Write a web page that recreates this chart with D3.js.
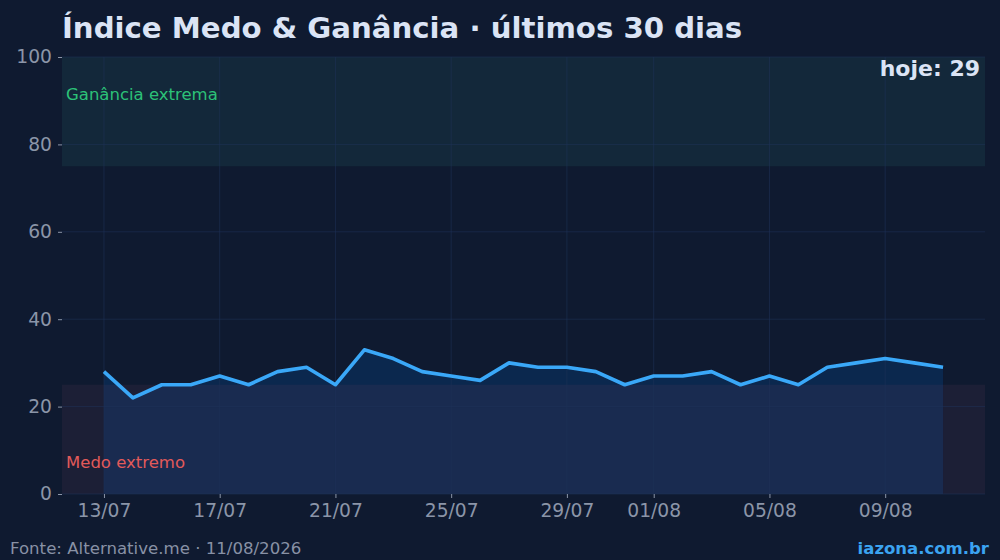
<!DOCTYPE html>
<html>
<head>
<meta charset="utf-8">
<script src="https://cdn.jsdelivr.net/npm/d3@7"></script>
<style>
  body { margin: 0; background: #0f1a30; }
  svg { display: block; font-family: "DejaVu Sans", sans-serif; }
</style>
</head>
<body>
<div id="chart"></div>
<script>
// data: fear & greed index, last 30 days
const dates = ["2026-07-13","2026-07-14","2026-07-15","2026-07-16","2026-07-17","2026-07-18",
  "2026-07-19","2026-07-20","2026-07-21","2026-07-22","2026-07-23","2026-07-24","2026-07-25",
  "2026-07-26","2026-07-27","2026-07-28","2026-07-29","2026-07-30","2026-07-31","2026-08-01",
  "2026-08-02","2026-08-03","2026-08-04","2026-08-05","2026-08-06","2026-08-07","2026-08-08",
  "2026-08-09","2026-08-10","2026-08-11"];
const values = [28,22,25,25,27,25,28,29,25,33,31,28,27,26,30,29,29,28,25,27,27,28,25,27,25,29,30,31,30,29];
const yTicks = [0,20,40,60,80,100];
const bands = [
  {from: 75, to: 100, label: "Ganância extrema", fill: "rgba(55,166,148,0.10)", color: "#2cc278"},
  {from: 0, to: 25, label: "Medo extremo", fill: "rgba(110,60,95,0.15)", color: "#e25a5a"}
];

const W = 1000, H = 560;
const m = {left: 62, right: 985, top: 57, bottom: 494};

const parse = d3.timeParse("%Y-%m-%d");
const data = dates.map((d, i) => ({date: parse(d), value: values[i]}));

const svg = d3.select("#chart").append("svg")
  .attr("width", W).attr("height", H);

svg.append("rect").attr("width", W).attr("height", H).attr("fill", "#0f1a30");

// x with 5% margins like the original
const ext = d3.extent(data, d => d.date);
const pad = (ext[1] - ext[0]) * 0.05;
const x = d3.scaleTime()
  .domain([new Date(+ext[0] - pad), new Date(+ext[1] + pad)])
  .range([m.left, m.right]);
const y = d3.scaleLinear().domain([0, 100]).range([m.bottom, m.top]);

const xTicks = d3.timeDay.range(ext[0], d3.timeDay.offset(ext[1], 1))
  .filter(d => [1,5,9,13,17,21,25,29].includes(d.getDate()));

// area under the line
svg.append("path")
  .datum(data)
  .attr("fill", "rgba(0,80,165,0.26)")
  .attr("d", d3.area().x(d => x(d.date)).y0(y(0)).y1(d => y(d.value)));

// zone bands
svg.selectAll(".band")
  .data(bands)
  .join("rect")
    .attr("x", m.left)
    .attr("width", m.right - m.left)
    .attr("y", d => y(d.to))
    .attr("height", d => y(d.from) - y(d.to))
    .attr("fill", d => d.fill);

// grid
svg.append("g")
  .selectAll("line")
  .data(yTicks)
  .join("line")
    .attr("x1", m.left).attr("x2", m.right)
    .attr("y1", d => y(d)).attr("y2", d => y(d))
    .attr("stroke", "#1f3358").attr("stroke-opacity", 0.7).attr("stroke-width", 0.8);
svg.append("g")
  .selectAll("line")
  .data(xTicks)
  .join("line")
    .attr("x1", d => x(d)).attr("x2", d => x(d))
    .attr("y1", m.top).attr("y2", m.bottom)
    .attr("stroke", "#1f3358").attr("stroke-opacity", 0.7).attr("stroke-width", 0.8);

// line
svg.append("path")
  .datum(data)
  .attr("fill", "none")
  .attr("stroke", "#3aa8f8")
  .attr("stroke-width", 3.6)
  .attr("stroke-linejoin", "round")
  .attr("d", d3.line().x(d => x(d.date)).y(d => y(d.value)));

// axes
const yAxis = svg.append("g")
  .attr("transform", `translate(${m.left},0)`)
  .call(d3.axisLeft(y).tickValues(yTicks).tickSize(4).tickPadding(6));
const xAxis = svg.append("g")
  .attr("transform", `translate(0,${m.bottom})`)
  .call(d3.axisBottom(x).tickValues(xTicks).tickFormat(d3.timeFormat("%d/%m")).tickSize(4).tickPadding(6));
[yAxis, xAxis].forEach(a => {
  a.select(".domain").remove();
  a.selectAll(".tick line").attr("stroke", "#8b95a8");
  a.selectAll(".tick text")
    .attr("fill", "#8b95a8")
    .style("font-size", "18.7px")
    .style("font-family", "DejaVu Sans");
});

// band labels
svg.selectAll(".bandlabel")
  .data(bands)
  .join("text")
    .attr("x", m.left + 4)
    .attr("y", d => d.from === 0 ? 468 : 100)
    .attr("fill", d => d.color)
    .style("font-size", "16.5px")
    .text(d => d.label);

// title
svg.append("text")
  .attr("x", m.left).attr("y", 38)
  .attr("fill", "#dbe4f5")
  .style("font-size", "29.2px")
  .style("font-weight", "bold")
  .text("Índice Medo & Ganância · últimos 30 dias");

// today value
svg.append("text")
  .attr("x", 980).attr("y", 76)
  .attr("text-anchor", "end")
  .attr("fill", "#dbe4f5")
  .style("font-size", "22px")
  .style("font-weight", "bold")
  .text("hoje: " + values[values.length - 1]);

// footer
svg.append("text")
  .attr("x", 10).attr("y", 554)
  .attr("fill", "#8891a5")
  .style("font-size", "16.6px")
  .text("Fonte: Alternative.me · 11/08/2026");
svg.append("text")
  .attr("x", 989).attr("y", 554)
  .attr("text-anchor", "end")
  .attr("fill", "#3ba3f0")
  .style("font-size", "16.5px")
  .style("font-weight", "bold")
  .text("iazona.com.br");
</script>
</body>
</html>
